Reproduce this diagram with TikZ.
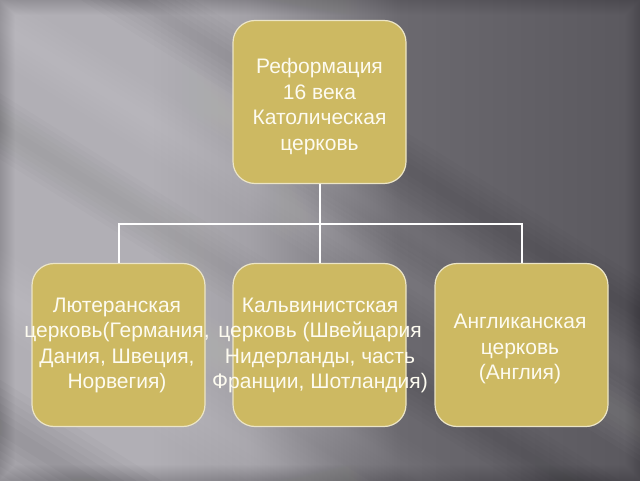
\documentclass[tikz,border=0pt]{standalone}
\usepackage{fontspec}
\setmainfont{Liberation Sans}
\definecolor{gA}{HTML}{B1AFB5}
\definecolor{gB}{HTML}{A3A1A7}
\definecolor{gC}{HTML}{89878D}
\definecolor{gD}{HTML}{6B696F}
\definecolor{gE}{HTML}{5A585E}
\definecolor{boxfill}{HTML}{CDB962}
\definecolor{boxline}{HTML}{ECE5C6}
\definecolor{txtcol}{HTML}{FDFBF0}
\pgfdeclarehorizontalshading{bgbase}{100bp}{color(0bp)=(gA); color(25bp)=(gA); color(36.7bp)=(gA); color(44.5bp)=(gB); color(50bp)=(gC); color(56.3bp)=(gD); color(75bp)=(gE); color(100bp)=(gE)}
\newcommand{\softband}[4]{% centre, half width, colour, total opacity
  \foreach \k in {1,...,6}{%
    \fill[#3, opacity=#4/6] (-1400,{#1-#2*\k/6}) rectangle (1400,{#1+#2*\k/6});}}
\tikzset{
  boxnode/.style={draw=boxline, line width=1.2pt, fill=boxfill, rounded corners=22pt, minimum width=173pt, minimum height=163pt, inner sep=0pt},
  boxtext/.style={text=txtcol, align=center, font=\fontsize{21pt}{25.5pt}\selectfont, inner sep=0pt},
  conn/.style={draw=white, line width=2pt}
}
\begin{document}
\begin{tikzpicture}[x=1pt,y=1pt]
\useasboundingbox (0,0) rectangle (640,480);
\fill[shading=bgbase] (0,0) rectangle (640,480);
\begin{scope}
  \clip (0,0) rectangle (640,480);
  \begin{scope}[rotate=-32]
    \softband{385}{30}{white}{0.12}
    \softband{430}{22}{white}{0.07}
    \softband{160}{35}{white}{0.10}
    \softband{225}{25}{white}{0.06}
    \softband{300}{28}{black}{0.08}
    \softband{480}{30}{black}{0.09}
    \softband{45}{40}{black}{0.12}
  \end{scope}
  \foreach \w in {2,4,...,30}{\draw[black,opacity=0.009,line width=\w pt] (0,0) rectangle (640,480);}
\end{scope}
\node[boxnode] (bT) at (319.5,378) {};
\node[boxnode] (bL) at (118.5,135) {};
\node[boxnode] (bM) at (319.5,135) {};
\node[boxnode] (bR) at (521.5,135) {};
\coordinate (j) at (319.5,256);
\draw[conn] (bT.south) -- (bM.north);
\draw[conn] (bL.north) |- (j) -| (bR.north);
\node[boxtext] (tT) at (319.5,373.5) {Реформация\\16 века\\Католическая\\церковь};
\node[boxtext] (tL) at (117,134.5) {Лютеранская\\церковь(Германия,\\Дания, Швеция,\\Норвегия)};
\node[boxtext] (tM) at (320,134.5) {Кальвинистская\\церковь (Швейцария\\Нидерланды, часть\\Франции, Шотландия)};
\node[boxtext] (tR) at (520,131) {Англиканская\\церковь\\(Англия)};
\end{tikzpicture}
\end{document}
